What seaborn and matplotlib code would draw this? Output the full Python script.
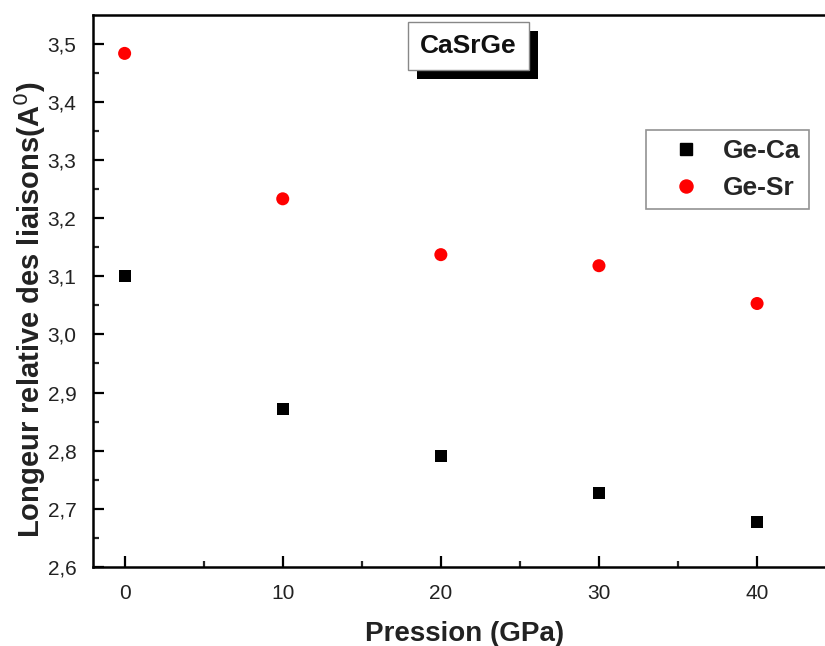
import matplotlib
matplotlib.use("Agg")
import matplotlib.pyplot as plt
import matplotlib.patheffects as pe
from matplotlib.ticker import MultipleLocator, FuncFormatter
from matplotlib.lines import Line2D
import seaborn as sns
import pandas as pd

pression = [0, 10, 20, 30, 40]
ge_ca = [3.101, 2.872, 2.791, 2.727, 2.677]
ge_sr = [3.483, 3.233, 3.137, 3.118, 3.053]
series = ["Ge-Ca", "Ge-Sr"]

df = pd.DataFrame({
    "P": pression * 2,
    "L": ge_ca + ge_sr,
    "s": [series[0]] * 5 + [series[1]] * 5,
})

sns.set_style("white")
plt.rcParams["font.family"] = ["Liberation Sans", "DejaVu Sans"]

fig = plt.figure(figsize=(8.25, 6.46), dpi=100)
ax = fig.add_axes([93 / 825, 79 / 646, 1 - 93 / 825 + 0.002, (567 - 15) / 646])

sns.scatterplot(data=df, x="P", y="L", hue="s", style="s", size="s",
                palette={"Ge-Ca": "black", "Ge-Sr": "#ff0000"},
                markers={"Ge-Ca": "s", "Ge-Sr": "o"},
                sizes={"Ge-Ca": 75, "Ge-Sr": 88},
                edgecolor="none", legend=False, ax=ax)

ax.set_xlim(-2, 44.4)
ax.set_ylim(2.6, 3.549)
ax.xaxis.set_major_locator(MultipleLocator(10))
ax.xaxis.set_minor_locator(MultipleLocator(5))
ax.yaxis.set_major_locator(MultipleLocator(0.1))
ax.yaxis.set_minor_locator(MultipleLocator(0.05))
ax.yaxis.set_major_formatter(FuncFormatter(lambda v, p: f"{v:.1f}".replace(".", ",")))
ax.tick_params(axis="both", which="major", direction="in", length=8, width=1.6,
               labelsize=15, colors="black", labelcolor="#222222", bottom=True, left=True)
ax.tick_params(axis="y", which="major", pad=12)
ax.tick_params(axis="x", which="major", pad=12)
ax.tick_params(axis="both", which="minor", direction="in", length=4.5, width=1.6,
               bottom=True, left=True)
for k in ["left", "bottom", "top"]:
    ax.spines[k].set_linewidth(1.8)
    ax.spines[k].set_color("black")
ax.spines["right"].set_visible(False)

ax.set_xlabel("Pression (GPa)", fontsize=20, fontweight="bold", color="#222222")
ax.set_ylabel("Longeur relative des liaisons(A$^0$)", fontsize=21, fontweight="bold",
              color="#222222")
ax.yaxis.set_label_coords(-0.062, 0.466)
ax.xaxis.set_label_coords(0.507, -0.098)

# Title box with shadow
t = ax.text(0.512, 0.944, "CaSrGe", transform=ax.transAxes, ha="center", va="center",
            fontsize=19, fontweight="bold", color="#111111",
            bbox=dict(boxstyle="square,pad=0.45", fc="white", ec="#888888", lw=1))
t.get_bbox_patch().set_path_effects([
    pe.SimplePatchShadow(offset=(6.5, -6.5), shadow_rgbFace="black", alpha=1.0),
    pe.Normal(),
])

handles = [
    Line2D([], [], marker="s", color="black", ls="none", markersize=8.6),
    Line2D([], [], marker="o", color="#ff0000", ls="none", markersize=9.4),
]
leg = ax.legend(handles, series, loc="upper left", bbox_to_anchor=(0.754, 0.792),
                prop={"weight": "bold", "size": 19}, frameon=True, fancybox=False,
                edgecolor="#777777", handletextpad=0.25, borderpad=0.35,
                labelspacing=0.5, handlelength=2.3, borderaxespad=0)
leg.get_frame().set_linewidth(1.2)

fig.savefig("out.png", dpi=100)
